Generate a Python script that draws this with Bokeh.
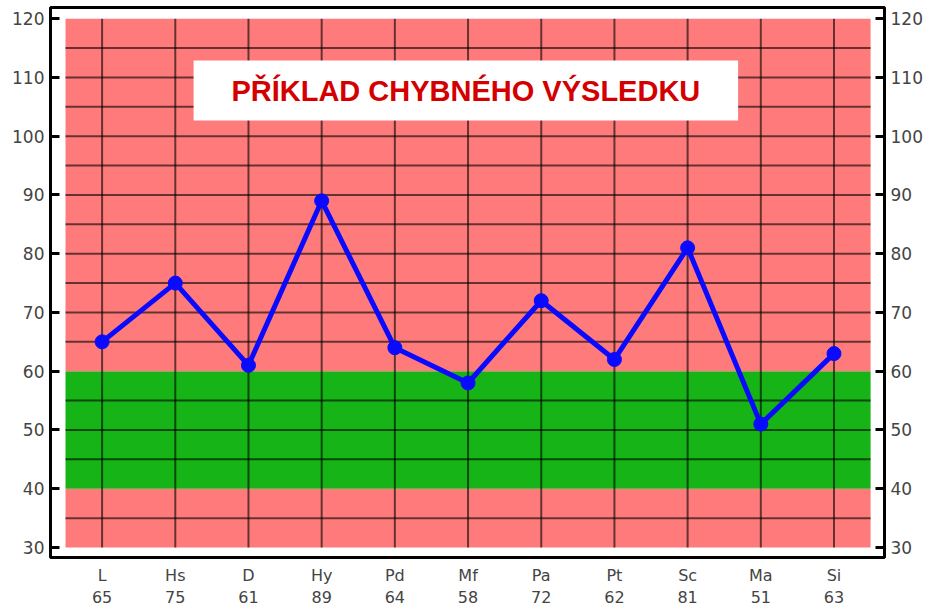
from bokeh.plotting import figure
from bokeh.models import FixedTicker, LinearAxis, Range1d, BoxAnnotation, Label
from bokeh.embed import file_html
from bokeh.resources import INLINE

# ---- data ----
scales = ["L", "Hs", "D", "Hy", "Pd", "Mf", "Pa", "Pt", "Sc", "Ma", "Si"]
scores = [65, 75, 61, 89, 64, 58, 72, 62, 81, 51, 63]
y_ticks = [30, 40, 50, 60, 70, 80, 90, 100, 110, 120]
grid_levels = [35, 45, 50, 55, 65, 70, 75, 80, 85, 90, 95, 100, 105, 110, 115]
band_bottoms = [30, 40, 60]
band_tops = [40, 60, 120]
band_colors = ["#ff7b7b", "#16b416", "#ff7b7b"]
title_text = "PŘÍKLAD CHYBNÉHO VÝSLEDKU"

xs = list(range(len(scales)))
y_min, y_max = y_ticks[0], y_ticks[-1]

p = figure(frame_width=834, frame_height=550, output_backend="svg", toolbar_location=None,
           x_range=Range1d(-0.705, 10.69), y_range=Range1d(28.3, 121.9),
           min_border_left=50, min_border_right=45, min_border_top=7,
           min_border_bottom=48)
p.background_fill_color = "white"
p.border_fill_color = "white"
p.outline_line_color = "black"
p.outline_line_width = 3
p.xgrid.grid_line_color = None
p.ygrid.grid_line_color = None

# colour bands
p.quad(left=-0.5, right=len(scales) - 0.5, bottom=band_bottoms, top=band_tops,
       fill_color=band_colors, line_color=None)

# grid lines
p.segment(x0=[-0.5] * len(grid_levels), x1=[len(scales) - 0.5] * len(grid_levels),
          y0=grid_levels, y1=grid_levels, line_color="black", line_alpha=0.6, line_width=2)
p.segment(x0=xs, x1=xs, y0=[y_min] * len(xs), y1=[y_max] * len(xs),
          line_color="black", line_alpha=0.6, line_width=2)

# title box
p.add_layout(BoxAnnotation(left=1.25, right=8.69, bottom=102.65, top=112.86,
                           fill_color="white", fill_alpha=1, line_color=None))
p.add_layout(Label(x=4.97, y=107.75, text=title_text, text_align="center",
                   text_baseline="middle", text_color="#d40000",
                   text_font="Liberation Sans", text_font_style="bold",
                   text_font_size="29px"))

# data line
p.line(xs, scores, line_color="#0a0aff", line_width=5)
p.scatter(xs, scores, size=14, fill_color="#0a0aff", line_color="#0a0aff")

# axes
right = LinearAxis()
p.add_layout(right, "right")
for ax in [p.yaxis[0], right]:
    ax.ticker = FixedTicker(ticks=y_ticks)
    ax.axis_line_color = None
    ax.major_tick_in = 9
    ax.major_tick_out = 0
    ax.major_tick_line_width = 3
    ax.major_tick_line_color = "black"
    ax.minor_tick_line_color = None
    ax.major_label_text_font = "DejaVu Sans"
    ax.major_label_text_font_size = "17px"
    ax.major_label_text_color = "#444444"
    ax.major_label_standoff = 6

xa = p.xaxis[0]
xa.ticker = FixedTicker(ticks=xs)
xa.major_label_overrides = {i: f"{s}\n{v}" for i, (s, v) in enumerate(zip(scales, scores))}
xa.axis_line_color = None
xa.major_tick_line_color = None
xa.minor_tick_line_color = None
xa.major_label_text_font = "DejaVu Sans"
xa.major_label_text_font_size = "16px"
xa.major_label_text_color = "#444444"
xa.major_label_standoff = 2

open("out.html", "w").write(file_html(p, INLINE))
